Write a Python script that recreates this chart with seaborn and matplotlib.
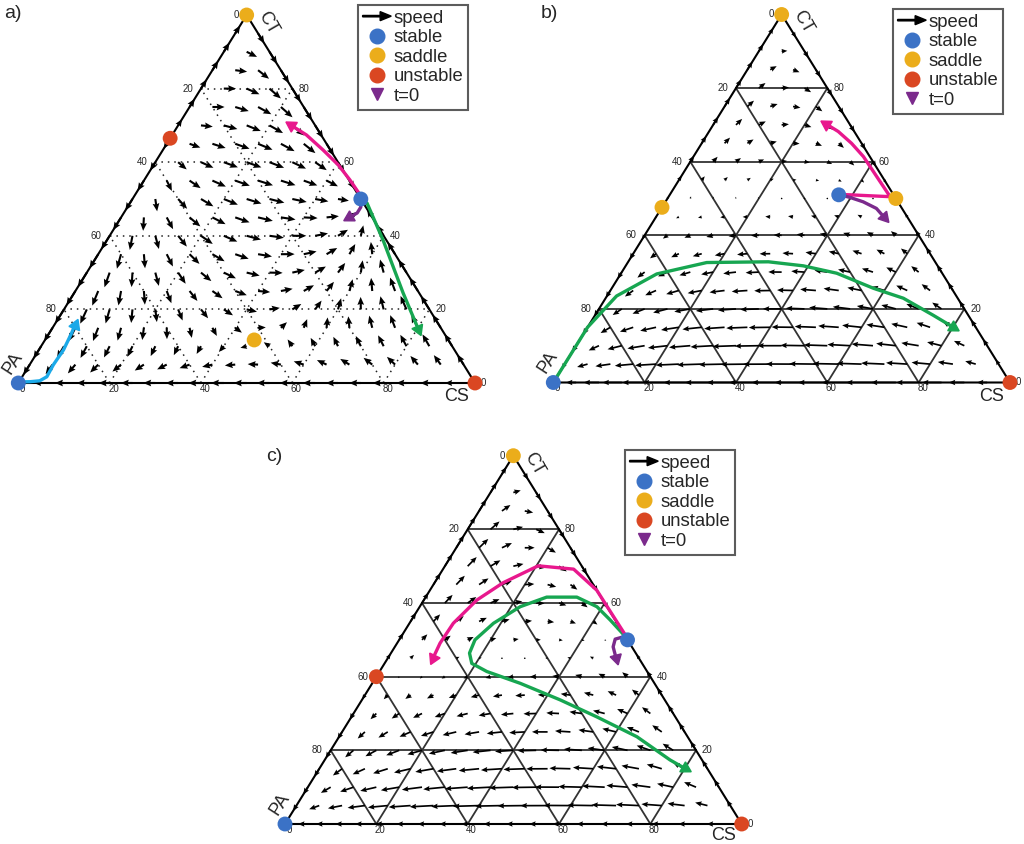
import numpy as np
import matplotlib
matplotlib.use("Agg")
import matplotlib.pyplot as plt
from matplotlib.lines import Line2D
from matplotlib.patches import FancyArrow
from matplotlib.legend_handler import HandlerBase
import seaborn as sns

# ---------------- data ----------------
# payoff matrices (strategy order PA, CS, CT) that drive each speed field
payoff_a = [[0.0, 0.40, -1.0], [-0.40, 0.0, 2.0], [-2.0, 2.0, 0.0]]
payoff_b = [[0.0, 2.205, -1.11], [-2.167, 0.0, 1.0], [-1.0, 1.0, 0.0]]
payoff_c = [[0.0, 2.446, -1.5], [-1.63, 0.0, 1.0], [-1.0, 1.0, 0.0]]

# fixed points as (CS %, CT %)
stable_a = [(0, 0), (50, 50)]
saddle_a = [(0, 100), (45.8, 11.7)]
unstable_a = [(100, 0), (0, 66.5)]

stable_b = [(0, 0), (37, 51)]
saddle_b = [(0, 100), (0, 47.6), (50, 50)]
unstable_b = [(100, 0)]

stable_c = [(0, 0), (50, 50)]
saddle_c = [(0, 100)]
unstable_c = [(100, 0), (0, 40)]

# trajectories (CS %, CT %), first point is t=0
a_pink_cs = [24.6, 29.4, 35.1, 40.5, 45.0, 49.3, 50.2]
a_pink_ct = [70.1, 67.4, 63.3, 59.2, 55.2, 51.1, 49.9]
a_purple_cs = [50.0, 51.1, 51.1, 50.1, 50.2]
a_purple_ct = [45.0, 46.2, 47.8, 49.5, 49.9]
a_green_cs = [80.3, 72.0, 60.4, 51.9, 50.2]
a_green_ct = [14.6, 24.5, 38.9, 48.9, 49.9]
a_cyan_cs = [4.5, 4.9, 5.4, 5.2, 5.4, 4.4, 2.4, 0.2]
a_cyan_ct = [15.8, 13.5, 9.0, 4.9, 1.7, 0.6, 0.35, 0.3]

b_pink_cs = [24.7, 28.3, 32.8, 37.2, 42.9, 48.5, 44.7, 39.5, 37.1]
b_pink_ct = [70.2, 68.2, 65.0, 61.4, 55.9, 50.5, 50.7, 51.0, 51.1]
b_purple_cs = [50.0, 47.1, 43.3, 39.8, 37.3]
b_purple_ct = [44.9, 47.3, 49.1, 50.3, 51.0]
b_green_cs = [80.1, 74.0, 65.2, 57.3, 47.2, 38.9, 30.7, 17.3, 7.9, 2.1, 0.0, 0.0]
b_green_ct = [15.0, 18.3, 22.9, 25.6, 29.7, 31.7, 32.8, 32.6, 29.5, 23.5, 15.0, 0.2]

c_pink_cs = [9.9, 9.4, 9.6, 11.6, 15.0, 20.4, 28.6, 36.5, 43.8, 50.2]
c_pink_ct = [45.0, 49.1, 54.5, 60.8, 65.5, 70.1, 69.2, 63.5, 56.3, 50.0]
c_green_cs = [80.0, 75.6, 65.2, 53.7, 43.4, 32.4, 23.5, 19.1, 17.2, 16.6, 18.4,
              22.0, 26.5, 33.1, 38.8, 43.5, 50.2]
c_green_ct = [15.1, 17.4, 23.7, 29.1, 33.7, 38.2, 41.4, 43.6, 46.4, 50.0, 54.5,
              59.0, 61.6, 61.6, 59.0, 55.4, 50.0]
c_purple_cs = [50.0, 47.8, 47.2, 48.4, 50.2]
c_purple_ct = [45.0, 48.1, 50.2, 50.7, 50.0]

tick_values = [0, 20, 40, 60, 80]
legend_labels = ["speed", "stable", "saddle", "unstable", "t=0"]

# ---------------- style ----------------
BLUE = "#3b72c6"
YELLOW = "#ebad1b"
RED = "#da4722"
PURPLE = "#7b2a8c"
PINK = "#e8188d"
GREEN = "#17a651"
CYAN = "#1ba9e8"

sns.set_theme(style="white")
plt.rcParams["font.family"] = ["Liberation Sans", "DejaVu Sans"]

W, H = 1024, 844
fig = plt.figure(figsize=(W / 100, H / 100), dpi=100)
XL = (-0.12, 1.12)
YL = (-0.08, 1.07)


class ArrowHandler(HandlerBase):
    # thin arrow for the "speed" entry of the legend
    def create_artists(self, legend, orig_handle, xdescent, ydescent, width,
                       height, fontsize, trans):
        arrow = FancyArrow(-xdescent, -ydescent + height / 2, width, 0,
                           width=1.0, head_width=6.5, head_length=8,
                           length_includes_head=True, color="black", transform=trans)
        return [arrow]


def tern(cs, ct):
    cs = np.asarray(cs, dtype=float) / 100
    ct = np.asarray(ct, dtype=float) / 100
    return cs + ct / 2, ct


def make_axes(px0, py0, s, h):
    left = px0 + XL[0] * s
    right = px0 + XL[1] * s
    top = py0 - YL[1] * h
    bottom = py0 - YL[0] * h
    ax = fig.add_axes([left / W, 1 - bottom / H, (right - left) / W, (bottom - top) / H])
    ax.set_xlim(XL)
    ax.set_ylim(YL)
    ax.axis("off")
    ax.set_facecolor("none")
    return ax


def draw_grid(ax, dotted):
    kw = dict(color="#222222", lw=1.1, ls=(0, (1, 3.2)), zorder=1) if dotted else \
        dict(color="#333333", lw=1.3, ls="-", zorder=1)
    for k in [0.2, 0.4, 0.6, 0.8]:
        ax.plot([k / 2, 1 - k / 2], [k, k], **kw)
        ax.plot([k, k + (1 - k) / 2], [0, 1 - k], **kw)
        ax.plot([1 - k, (1 - k) / 2], [0, 1 - k], **kw)
    ax.plot([0, 1, 0.5, 0], [0, 0, 1, 0], color="black", lw=1.5, zorder=2)


def draw_field(ax, A, s, h, lmax, gamma, width):
    A = np.array(A)
    ct = np.array([i / 20 for i in range(21) for j in range(21 - i)])
    cs = np.array([j / 20 for i in range(21) for j in range(21 - i)])
    x = np.stack([1 - cs - ct, cs, ct], axis=1)
    f = x @ A.T
    fbar = (x * f).sum(axis=1)
    dx = x * (f - fbar[:, None])
    up = (dx[:, 1] + dx[:, 2] / 2) * s
    vp = dx[:, 2] * h
    sp = np.hypot(up, vp)
    safe = np.where(sp > 0, sp, 1)
    L = lmax * (sp / sp.max()) ** gamma
    U = L * up / safe / s
    V = L * vp / safe / h
    ax.quiver(cs + ct / 2, ct, U, V, angles="xy", scale_units="xy", scale=1,
              units="dots", width=width, headwidth=3.2, headlength=3.8,
              headaxislength=3.4, color="black", pivot="tail", zorder=3)


def draw_ticks(ax, cs_offset):
    for v in tick_values:
        c = 1 - v / 100
        ax.annotate(str(v), (c / 2, c), xytext=(-8, 0), textcoords="offset pixels",
                    ha="right", va="center", fontsize=7)
        c = v / 100
        ax.annotate(str(v), (1 - c / 2, c), xytext=(6, 0), textcoords="offset pixels",
                    ha="left", va="center", fontsize=7)
        ax.annotate(str(v), (v / 100, 0), xytext=(4, -1), textcoords="offset pixels",
                    ha="center", va="top", fontsize=7)
    ax.annotate("CT", (0.5, 1), xytext=(21, -8), textcoords="offset pixels",
                ha="center", va="center", rotation=-60, fontsize=13)
    ax.annotate("PA", (0, 0), xytext=(-5, 20), textcoords="offset pixels",
                ha="center", va="center", rotation=57, fontsize=13)
    ax.annotate("CS", (1, 0), xytext=cs_offset, textcoords="offset pixels",
                ha="center", va="center", fontsize=13)


def draw_traj(ax, cs, ct, color, s, h):
    X, Y = tern(cs, ct)
    sns.lineplot(x=X, y=Y, sort=False, estimator=None, color=color, lw=2.4,
                 ax=ax, legend=False, zorder=5)
    ang = np.degrees(np.arctan2((Y[0] - Y[1]) * h, (X[0] - X[1]) * s))
    ax.plot(X[0], Y[0], marker=(3, 0, ang - 90), color=color, ms=9.5,
            ls="none", zorder=5)


def draw_points(ax, pts, color):
    cs = [p[0] for p in pts]
    ct = [p[1] for p in pts]
    X, Y = tern(cs, ct)
    sns.scatterplot(x=X, y=Y, color=color, s=115, edgecolor="none", ax=ax,
                    zorder=7, clip_on=False, legend=False)


def draw_legend(x, y):
    speed_handle = FancyArrow(0, 0, 1, 0)
    handles = [
        speed_handle,
        Line2D([], [], color=BLUE, marker="o", ls="none", markersize=10.5),
        Line2D([], [], color=YELLOW, marker="o", ls="none", markersize=10.5),
        Line2D([], [], color=RED, marker="o", ls="none", markersize=10.5),
        Line2D([], [], color=PURPLE, marker="v", ls="none", markersize=9),
    ]
    leg = fig.legend(handles, legend_labels, loc="upper left",
                     bbox_to_anchor=(x / W, 1 - y / H), frameon=True, fancybox=False,
                     fontsize=13.3, handlelength=1.55, handletextpad=0.12,
                     labelspacing=0.14, borderpad=0.25, borderaxespad=0,
                     handler_map={speed_handle: ArrowHandler()})
    leg.get_frame().set_edgecolor("#333333")
    leg.get_frame().set_linewidth(1.5)


panels = [
    dict(geo=(18.3, 383.0, 456.7, 368.0), A=payoff_a, dotted=True, lmax=17, gamma=0.35,
         width=2.1, stable=stable_a, saddle=saddle_a, unstable=unstable_a,
         trajs=[(a_cyan_cs, a_cyan_ct, CYAN), (a_green_cs, a_green_ct, GREEN),
                (a_pink_cs, a_pink_ct, PINK), (a_purple_cs, a_purple_ct, PURPLE)],
         label="a)", label_pos=(4, 14), legend_pos=(358, 5), cs_off=(-18, -14)),
    dict(geo=(553.3, 382.5, 456.7, 368.0), A=payoff_b, dotted=False, lmax=30, gamma=0.65,
         width=1.7, stable=stable_b, saddle=saddle_b, unstable=unstable_b,
         trajs=[(b_green_cs, b_green_ct, GREEN), (b_pink_cs, b_pink_ct, PINK),
                (b_purple_cs, b_purple_ct, PURPLE)],
         label="b)", label_pos=(541, 13), legend_pos=(893, 9), cs_off=(-18, -14)),
    dict(geo=(285.0, 824.0, 456.7, 368.3), A=payoff_c, dotted=False, lmax=30, gamma=0.6,
         width=1.7, stable=stable_c, saddle=saddle_c, unstable=unstable_c,
         trajs=[(c_green_cs, c_green_ct, GREEN), (c_pink_cs, c_pink_ct, PINK),
                (c_purple_cs, c_purple_ct, PURPLE)],
         label="c)", label_pos=(266, 457), legend_pos=(625, 450), cs_off=(-18, -11)),
]

for p in panels:
    px0, py0, s, h = p["geo"]
    ax = make_axes(px0, py0, s, h)
    draw_grid(ax, p["dotted"])
    draw_field(ax, p["A"], s, h, p["lmax"], p["gamma"], p["width"])
    draw_ticks(ax, p["cs_off"])
    for cs, ct, col in p["trajs"]:
        draw_traj(ax, cs, ct, col, s, h)
    draw_points(ax, p["stable"], BLUE)
    draw_points(ax, p["saddle"], YELLOW)
    draw_points(ax, p["unstable"], RED)
    fig.text(p["label_pos"][0] / W, 1 - p["label_pos"][1] / H, p["label"],
             ha="left", va="center", fontsize=14)
    draw_legend(*p["legend_pos"])

fig.savefig("out.png", dpi=100)
